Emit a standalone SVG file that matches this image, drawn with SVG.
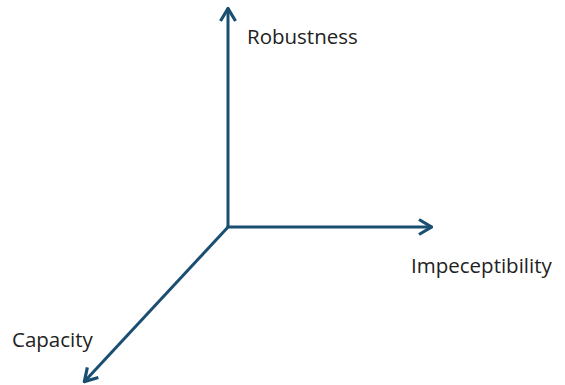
<svg xmlns="http://www.w3.org/2000/svg" width="565" height="385" viewBox="0 0 565 385">
<style>
.axis{stroke:#1b4f72;stroke-width:3;fill:none;stroke-linecap:butt}
.lbl{font-family:"Open Sans","Noto Sans",sans-serif;font-size:20.5px;fill:#222}
</style>
<defs>
<marker id="ah" viewBox="0 0 15 18" refX="14" refY="9" markerWidth="15" markerHeight="18" markerUnits="userSpaceOnUse" orient="auto">
<path d="M1,1.5 L13.5,9 L1,16.5" fill="none" stroke="#1b4f72" stroke-width="3.2" stroke-linejoin="miter"/>
</marker>
</defs>
<rect width="565" height="385" fill="#fff"/>
<g id="connectors">
<line class="axis" x1="228" y1="227" x2="228" y2="8" marker-end="url(#ah)"/>
<line class="axis" x1="226.5" y1="227" x2="432" y2="227" marker-end="url(#ah)"/>
<line class="axis" x1="229" y1="226" x2="84" y2="382" marker-end="url(#ah)"/>
</g>
<g id="robustness"><text class="lbl" x="247" y="44">Robustness</text></g>
<g id="impeceptibility"><text class="lbl" x="411" y="273">Impeceptibility</text></g>
<g id="capacity"><text class="lbl" x="12" y="347">Capacity</text></g>
</svg>
